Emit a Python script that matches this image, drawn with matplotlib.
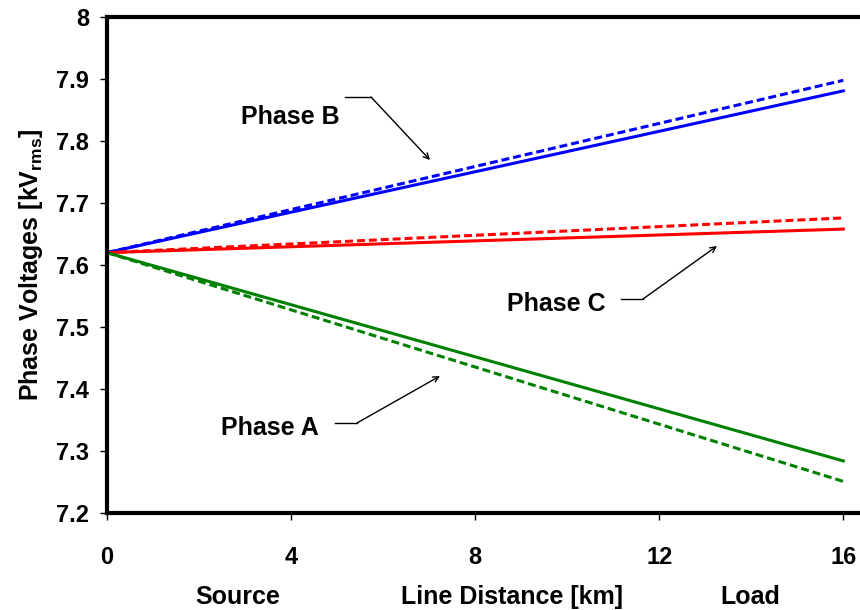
import numpy as np
import matplotlib.pyplot as plt

# line distance in km (straight lines, so just the two end points)
distance = [0, 16]

phase_a_solid = [7.62, 7.284]
phase_a_dash = [7.62, 7.251]
phase_b_solid = [7.62, 7.881]
phase_b_dash = [7.62, 7.898]
phase_c_solid = [7.62, 7.658]
phase_c_dash = [7.62, 7.676]

xticks = [0, 4, 8, 12, 16]
yticks = [7.2, 7.3, 7.4, 7.5, 7.6, 7.7, 7.8, 7.9, 8.0]
ytick_labels = ["7.2", "7.3", "7.4", "7.5", "7.6", "7.7", "7.8", "7.9", "8"]

plt.rcParams['font.family'] = ['Liberation Sans', 'DejaVu Sans']
plt.rcParams['font.weight'] = 'bold'
plt.rcParams['mathtext.fontset'] = 'custom'
plt.rcParams['mathtext.rm'] = 'Liberation Sans:bold'

fig = plt.figure(figsize=(8.6, 6.1), dpi=100)
ax = fig.add_axes([0.1244, 0.159, 0.876, 0.813])

dash = (0, (2.6, 1.3))
ax.plot(distance, phase_b_solid, color='#0000FF', lw=2.2)
ax.plot(distance, phase_b_dash, color='#0000FF', lw=2.2, ls=dash)
ax.plot(distance, phase_c_solid, color='#FF0000', lw=2.2)
ax.plot(distance, phase_c_dash, color='#FF0000', lw=2.2, ls=dash)
ax.plot(distance, phase_a_solid, color='#008000', lw=2.2)
ax.plot(distance, phase_a_dash, color='#008000', lw=2.2, ls=dash)

ax.set_xlim(0, 16.37)
ax.set_ylim(7.2, 8.0)
ax.set_xticks(xticks)
ax.set_yticks(yticks)
ax.set_yticklabels(ytick_labels)
ax.tick_params(axis='both', direction='out', length=5, width=1, labelsize=17)
ax.tick_params(axis='x', pad=19)
ax.tick_params(axis='y', pad=8)
for lbl in ax.get_xticklabels() + ax.get_yticklabels():
    lbl.set_fontweight('bold')

for s in ['left', 'top', 'bottom']:
    ax.spines[s].set_linewidth(3)
ax.spines['right'].set_visible(False)

ax.set_ylabel(r'Phase Voltages [kV$_{\mathrm{rms}}$]', fontsize=18, fontweight='bold', labelpad=8)

# bottom labels
fig.text(238 / 860, 1 - 597 / 610, 'Source', ha='center', va='center', fontsize=18, fontweight='bold')
fig.text(512 / 860, 1 - 597 / 610, 'Line Distance [km]', ha='center', va='center', fontsize=18, fontweight='bold')
fig.text(750 / 860, 1 - 597 / 610, 'Load', ha='center', va='center', fontsize=18, fontweight='bold')

# annotations with a short horizontal leader then an arrow
def callout(text, tx, ty, hx0, hx1, hy, ax_, ay_):
    fig.text(tx / 860, 1 - ty / 610, text, ha='center', va='center', fontsize=18, fontweight='bold')
    fig.add_artist(plt.Line2D([hx0 / 860, hx1 / 860], [1 - hy / 610, 1 - hy / 610], color='black', lw=1))
    ax.annotate('', xy=(ax_ / 860, 1 - ay_ / 610), xycoords='figure fraction',
                xytext=(hx1 / 860, 1 - hy / 610), textcoords='figure fraction',
                arrowprops=dict(arrowstyle='->', color='black', lw=1, shrinkA=0, shrinkB=0))

callout('Phase B', 290, 117, 345, 371, 97, 430, 160)
callout('Phase C', 556, 304, 621, 643, 299, 717, 246)
callout('Phase A', 270, 428, 335, 357, 423, 440, 376)

plt.savefig('out.png', dpi=100)
